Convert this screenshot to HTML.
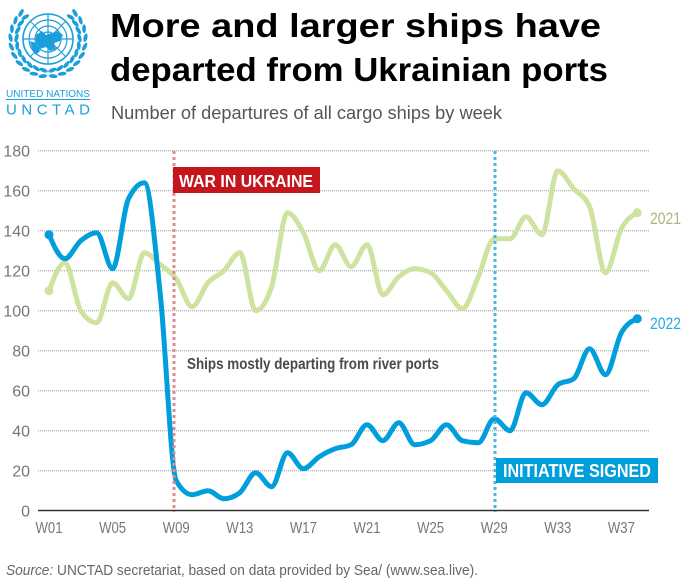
<!DOCTYPE html>
<html><head><meta charset="utf-8"><style>
html,body{margin:0;padding:0;background:#fff;}
svg{display:block;}
text{font-family:"Liberation Sans",sans-serif;}
</style></head><body>
<svg id="s" width="700" height="585" viewBox="0 0 700 585" xmlns="http://www.w3.org/2000/svg">
<rect width="700" height="585" fill="#fff"/>
<!-- logo -->
<g id="logo" fill="none" stroke="#1a9fdb">
  <circle cx="48" cy="39" r="25" stroke-width="1.6"/>
  <circle cx="48" cy="39" r="19" stroke-width="1.2"/>
  <circle cx="48" cy="39" r="13" stroke-width="1.2"/>
  <circle cx="48" cy="39" r="7" stroke-width="1.2"/>
  <line x1="23" y1="39" x2="73" y2="39" stroke-width="1.2"/>
  <line x1="48" y1="14" x2="48" y2="64" stroke-width="1.2"/>
  <line x1="30" y1="21" x2="66" y2="57" stroke-width="1"/>
  <line x1="66" y1="21" x2="30" y2="57" stroke-width="1"/>
  <path d="M36 35 L42 31 L46 35 L52 33 L58 31 L63 35 L60 41 L54 43 L56 49 L50 51 L46 47 L40 49 L36 43 Z" fill="#1a9fdb" stroke="none"/>
  <path d="M30 41 L36 43 L40 51 L36 55 L32 49 Z" fill="#1a9fdb" stroke="none"/>
</g>
<g id="wreath" fill="#1a9fdb"></g>
<text x="6" y="97" font-size="10.5" fill="#1a9fdb" textLength="84" lengthAdjust="spacingAndGlyphs">UNITED NATIONS</text>
<line x1="6" y1="99.5" x2="90" y2="99.5" stroke="#1a9fdb" stroke-width="1"/>
<text x="6" y="114.5" font-size="15" fill="#1a9fdb" textLength="84" lengthAdjust="spacing">UNCTAD</text>

<!-- title -->
<text x="110" y="37" font-size="33" font-weight="bold" fill="#000" textLength="491" lengthAdjust="spacingAndGlyphs">More and larger ships have</text>
<text x="110" y="81" font-size="33" font-weight="bold" fill="#000" textLength="498" lengthAdjust="spacingAndGlyphs">departed from Ukrainian ports</text>
<text x="111" y="119" font-size="18" fill="#555" textLength="391" lengthAdjust="spacingAndGlyphs">Number of departures of all cargo ships by week</text>

<g id="grid"></g>
<g id="series"></g>

<!-- vertical event lines -->
<line x1="174" y1="151" x2="174" y2="512" stroke="#e38a8c" stroke-width="3" stroke-dasharray="3 3"/>
<line x1="495" y1="151" x2="495" y2="512" stroke="#45b6e6" stroke-width="3" stroke-dasharray="3 3"/>

<rect x="173" y="167" width="147" height="26" fill="#c4161c"/>
<text x="179" y="187" font-size="17.5" font-weight="bold" fill="#fff" textLength="134" lengthAdjust="spacingAndGlyphs">WAR IN UKRAINE</text>
<rect x="496" y="458" width="162" height="25" fill="#009edb"/>
<text x="503" y="477" font-size="18" font-weight="bold" fill="#fff" textLength="148" lengthAdjust="spacingAndGlyphs">INITIATIVE SIGNED</text>

<text x="187" y="369" font-size="16" font-weight="bold" fill="#4a4a4a" textLength="252" lengthAdjust="spacingAndGlyphs">Ships mostly departing from river ports</text>

<text x="650" y="224" font-size="17" fill="#a9b77f" textLength="31" lengthAdjust="spacingAndGlyphs">2021</text>
<text x="650" y="329" font-size="17" fill="#29a9e1" textLength="31" lengthAdjust="spacingAndGlyphs">2022</text>

<text x="6" y="575" font-size="15" fill="#666" textLength="472" lengthAdjust="spacingAndGlyphs"><tspan font-style="italic">Source:</tspan> UNCTAD secretariat, based on data provided by Sea/ (www.sea.live).</text>
</svg>
<script>
(function(){
var NS="http://www.w3.org/2000/svg";
function el(t,a,p){var e=document.createElementNS(NS,t);for(var k in a)e.setAttribute(k,a[k]);(p||document.getElementById('s')).appendChild(e);return e;}
var grid=document.getElementById('grid');
function Y(v){return 510.7-2*v;}
function X(w){return 49+15.9*(w-1);}
for(var v=20;v<=180;v+=20){
  el('line',{x1:38,x2:649,y1:Y(v),y2:Y(v),stroke:'#999','stroke-width':1,'stroke-dasharray':'1 1'},grid);
}
for(var v=0;v<=180;v+=20){
  var t=el('text',{x:30,y:Y(v)+6,'font-size':16,fill:'#777','text-anchor':'end'},grid);t.textContent=String(v);
}
el('line',{x1:38,x2:649,y1:510.5,y2:510.5,stroke:'#333','stroke-width':1.5},grid);
for(var w=1;w<=37;w+=4){
  var s='W'+(w<10?'0':'')+w;
  var t=el('text',{x:X(w),y:533,'font-size':16,fill:'#777','text-anchor':'middle',textLength:27,lengthAdjust:'spacingAndGlyphs'},grid);t.textContent=s;
}
function sign(x){return x<0?-1:1;}
function path(vals){
  var pts=vals.map(function(v,i){return [X(i+1),Y(v)];});
  var n=pts.length,t=new Array(n);
  for(var i=1;i<n-1;i++){
    var x0=pts[i-1][0],y0=pts[i-1][1],x1=pts[i][0],y1=pts[i][1],x2=pts[i+1][0],y2=pts[i+1][1];
    var h0=x1-x0,h1=x2-x1,s0=(y1-y0)/h0,s1=(y2-y1)/h1,p=(s0*h1+s1*h0)/(h0+h1);
    t[i]=(sign(s0)+sign(s1))*Math.min(Math.abs(s0),Math.abs(s1),0.5*Math.abs(p))||0;
  }
  var h=pts[1][0]-pts[0][0];
  t[0]=(3*(pts[1][1]-pts[0][1])/h-t[1])/2;
  h=pts[n-1][0]-pts[n-2][0];
  t[n-1]=(3*(pts[n-1][1]-pts[n-2][1])/h-t[n-2])/2;
  var d='M'+pts[0][0]+','+pts[0][1];
  for(var i=0;i<n-1;i++){
    var dx=(pts[i+1][0]-pts[i][0])/3;
    d+='C'+(pts[i][0]+dx)+','+(pts[i][1]+dx*t[i])+','+(pts[i+1][0]-dx)+','+(pts[i+1][1]-dx*t[i+1])+','+pts[i+1][0]+','+pts[i+1][1];
  }
  return {d:d,pts:pts};
}
var g=document.getElementById('series');
var a=[110,124,100,94,114,106,129,123,116,102,114,120,129,100,112,149,139,120,133,122,133,108,117,121,119,110,101,117,136,136,147,138,170,161,152,119,141,149];
var b=[138,126,135,139,121,156,164,108,15,8,10,6,9,19,12,29,21,27,31,33,43,35,44,33,35,43,35,34,46,40,59,53,63,66,81,68,89,96];
var pa=path(a),pb=path(b);
el('path',{d:pa.d,fill:'none',stroke:'#cfe3a1','stroke-width':5,'stroke-linejoin':'round','stroke-linecap':'round'},g);
el('circle',{cx:pa.pts[0][0],cy:pa.pts[0][1],r:4.5,fill:'#cfe3a1'},g);
el('circle',{cx:pa.pts[37][0],cy:pa.pts[37][1],r:4.5,fill:'#cfe3a1'},g);
el('path',{d:pb.d,fill:'none',stroke:'#009edb','stroke-width':5,'stroke-linejoin':'round','stroke-linecap':'round'},g);
el('circle',{cx:pb.pts[0][0],cy:pb.pts[0][1],r:4.5,fill:'#009edb'},g);
el('circle',{cx:pb.pts[37][0],cy:pb.pts[37][1],r:4.5,fill:'#009edb'},g);
// wreath: two laurel branches, open at top
var wr=document.getElementById('wreath');
for(var side=-1;side<=1;side+=2){
  for(var k=0;k<10;k++){
    var angd=172-k*14;
    var ang=angd*Math.PI/180;
    var rows=[[31.5,-25],[37.5,25]];
    for(var q=0;q<2;q++){
      var r=rows[q][0];
      var cx=48+side*r*Math.sin(ang), cy=39-r*Math.cos(ang);
      var rot=side*(angd-90)+side*rows[q][1]*0.6;
      el('ellipse',{cx:cx,cy:cy,rx:1.9,ry:4.4,fill:'#1a9fdb',transform:'rotate('+rot+' '+cx+' '+cy+')'},wr);
    }
  }
}
})();
</script>
</body></html>
